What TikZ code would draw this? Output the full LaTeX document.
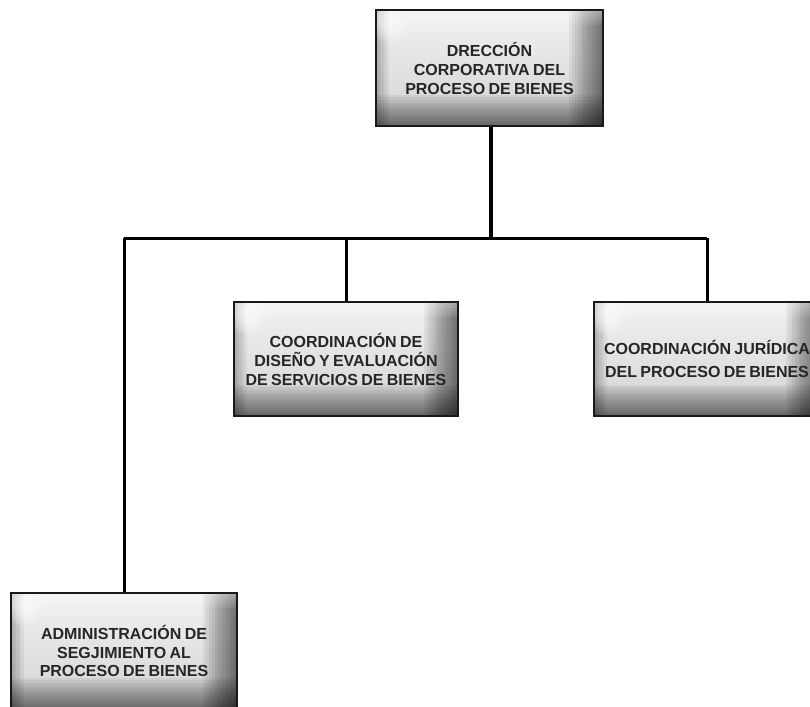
\documentclass[tikz,border=0pt]{standalone}
\usepackage{fontspec}
\newfontfamily\boxfont{Liberation Sans Bold}
\usetikzlibrary{calc}
\newcommand{\bxt}[2]{\boxfont\fontsize{16}{#1}\selectfont #2\par}
\tikzset{
  bevelbox/.style={rectangle, inner sep=0pt, minimum width=226pt, minimum height=115pt,
    draw=black!90, line width=2pt,
    top color=gray!10, bottom color=gray!35,
    text width=222pt, align=center, text=black!85,
    path picture={
      \foreach \i in {1,...,12}{
        \fill[black, opacity=0.055]
          ($(path picture bounding box.north east)+(-2.8*\i pt,0)$) rectangle (path picture bounding box.south east);
        \fill[black, opacity=0.05]
          (path picture bounding box.south west) rectangle ($(path picture bounding box.south east)+(0,2.6*\i pt)$);
      }
      \foreach \i in {1,...,5}{
        \fill[black, opacity=0.05]
          (path picture bounding box.south west) rectangle ($(path picture bounding box.north west)+(2.6*\i pt,0)$);
        \fill[white, opacity=0.08]
          (path picture bounding box.north west) rectangle ($(path picture bounding box.north east)+(0,-3*\i pt)$);
      }
      \foreach \r in {4,7,...,19}{
        \fill[white, opacity=0.15]
          ($(path picture bounding box.north west)+(13pt,-13pt)$) circle (\r pt);
      }
    }},
  busline/.style={line width=3pt, black},
  trunk/.style={line width=3.6pt, black}
}
\begin{document}
\begin{tikzpicture}[x=1pt,y=1pt]
\useasboundingbox (0,0) rectangle (810,-706);
\clip (0,0) rectangle (810,-706);
\coordinate (bus) at (0,-238);
\coordinate (trunkx) at (491,0);

\node[bevelbox, minimum width=227pt, minimum height=116pt] (dir) at (489.5,-68)
  {\bxt{19}{DRECCIÓN\\CORPORATIVA DEL\\PROCESO DE BIENES}};
\node[bevelbox, minimum width=224pt, minimum height=114pt] (cde) at (346,-359)
  {\bxt{19}{COORDINACIÓN DE\\DISEÑO Y EVALUACIÓN\\DE SERVICIOS DE BIENES}};
\node[bevelbox, minimum width=226pt, minimum height=114pt] (cj) at (707,-359)
  {\bxt{23}{COORDINACIÓN JURÍDICA\\DEL PROCESO DE BIENES}};
\node[bevelbox, minimum width=226pt, minimum height=116pt] (adm) at (124,-651)
  {\bxt{18.5}{ADMINISTRACIÓN DE\\SEGJIMIENTO AL\\PROCESO DE BIENES}};

\draw[trunk] (trunkx |- dir.south) -- (trunkx |- bus);
\draw[busline] (adm.north |- bus) -- (cj.north |- bus);
\draw[busline] (adm.north |- bus) -- (adm.north);
\draw[busline] (cde.north |- bus) -- (cde.north);
\draw[busline] (cj.north |- bus) -- (cj.north);
\end{tikzpicture}
\end{document}
